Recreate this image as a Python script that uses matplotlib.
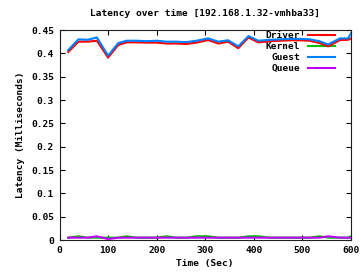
import matplotlib
matplotlib.use("Agg")
import matplotlib.pyplot as plt

time_sec = [18, 39, 58, 77, 100, 121, 138, 159, 179, 200, 220, 241, 261, 282, 306,
            327, 347, 368, 389, 409, 433, 453, 474, 494, 515, 535, 553, 577, 594, 600]
driver = [0.403, 0.425, 0.425, 0.427, 0.391, 0.418, 0.4235, 0.4235, 0.423, 0.423,
          0.421, 0.421, 0.420, 0.423, 0.4285, 0.421, 0.425, 0.411, 0.434, 0.4235,
          0.426, 0.427, 0.428, 0.428, 0.427, 0.422, 0.415, 0.4285, 0.429, 0.432]
guest = [0.407, 0.430, 0.429, 0.434, 0.395, 0.422, 0.427, 0.427, 0.426, 0.427,
         0.425, 0.425, 0.424, 0.427, 0.432, 0.425, 0.428, 0.415, 0.437, 0.427,
         0.429, 0.430, 0.431, 0.431, 0.430, 0.426, 0.419, 0.432, 0.432, 0.443]
kernel = [0.005, 0.008, 0.005, 0.005, 0.005, 0.005, 0.008, 0.005, 0.005, 0.005,
          0.008, 0.005, 0.005, 0.008, 0.008, 0.005, 0.005, 0.005, 0.008, 0.008,
          0.005, 0.005, 0.005, 0.005, 0.005, 0.008, 0.005, 0.005, 0.005, 0.008]
queue = [0.005, 0.005, 0.005, 0.008, 0.002, 0.005, 0.005, 0.005, 0.005, 0.005,
         0.005, 0.005, 0.005, 0.005, 0.005, 0.005, 0.005, 0.005, 0.005, 0.005,
         0.005, 0.005, 0.005, 0.005, 0.005, 0.005, 0.008, 0.005, 0.005, 0.005]

series_names = ["Driver", "Kernel", "Guest", "Queue"]
x_ticks = [0, 100, 200, 300, 400, 500, 600]
y_ticks = [0, 0.05, 0.1, 0.15, 0.2, 0.25, 0.3, 0.35, 0.4, 0.45]
y_tick_labels = ["0", "0.05", "0.1", "0.15", "0.2", "0.25", "0.3", "0.35", "0.4", "0.45"]

colors = ["#ff0000", "#00c000", "#0080ff", "#c000ff"]

plt.rcParams['font.family'] = ['DejaVu Sans Mono']
plt.rcParams['font.weight'] = 'bold'
fs = 6.8

fig = plt.figure(figsize=(3.61, 2.75), dpi=100)
ax = fig.add_axes([59.5 / 361, 35 / 275, 291.5 / 361, 210 / 275])

for name, vals, c in zip(series_names, [driver, kernel, guest, queue], colors):
    ax.plot(time_sec, vals, color=c, lw=1.5, label=name, zorder=3)

ax.set_xlim(0, 600)
ax.set_ylim(0, 0.45)
ax.set_xticks(x_ticks)
ax.set_xticklabels([str(t) for t in x_ticks])
ax.set_yticks(y_ticks)
ax.set_yticklabels(y_tick_labels)
ax.tick_params(direction='in', length=3.5, width=0.8, top=True, right=True,
               labelsize=fs, pad=4, colors='black')
for lab in ax.get_xticklabels() + ax.get_yticklabels():
    lab.set_fontweight('bold')
for s in ax.spines.values():
    s.set_linewidth(0.8)
    s.set_color('#202020')

ax.set_title("Latency over time [192.168.1.32-vmhba33]", fontsize=fs,
             fontweight='bold', pad=10)
ax.set_xlabel("Time (Sec)", fontsize=fs, fontweight='bold', labelpad=3)
ax.set_ylabel("Latency (Milliseconds)", fontsize=fs, fontweight='bold', labelpad=4)

leg = ax.legend(loc='upper right', bbox_to_anchor=(0.965, 1.02), frameon=False,
                markerfirst=False, fontsize=fs, handlelength=2.9,
                labelspacing=0.2, handletextpad=0.8, borderaxespad=0.2)
leg.set_zorder(2)
for t in leg.get_texts():
    t.set_fontweight('bold')

fig.savefig("out.png", dpi=100)
